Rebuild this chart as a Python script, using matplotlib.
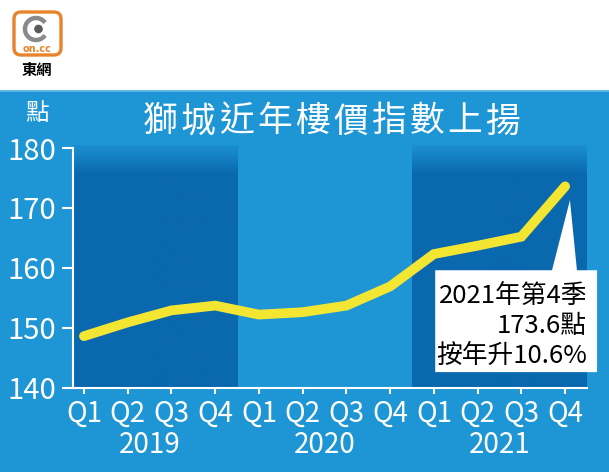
import matplotlib
matplotlib.use('Agg')
import matplotlib.pyplot as plt
import numpy as np
from matplotlib.colors import LinearSegmentedColormap
from matplotlib.patches import Rectangle, FancyBboxPatch, Polygon, Circle, Arc

plt.rcParams['font.family'] = ['Liberation Sans Narrow', 'Noto Sans CJK TC', 'DejaVu Sans']

quarters = ['Q1', 'Q2', 'Q3', 'Q4'] * 3
years = ['2019', '2020', '2021']
index_values = [148.6, 150.9, 152.9, 153.7, 152.2, 152.6, 153.7, 156.9, 162.3, 163.7, 165.2, 173.6]
y_ticks = [140, 150, 160, 170, 180]
title = '獅城近年樓價指數上揚'
callout_lines = ['2021年第4季', '173.6點', '按年升10.6%']

W, H = 609, 472
BG = '#1e96d5'
DARK = '#0a68ae'
YELLOW = '#f3e633'

fig = plt.figure(figsize=(W / 100, H / 100), dpi=100)
fig.patch.set_facecolor('white')

# overlay in pixel coordinates for panel and logo
over = fig.add_axes([0, 0, 1, 1], zorder=0)
over.set_xlim(0, W)
over.set_ylim(H, 0)
over.axis('off')
over.add_patch(Rectangle((0, 90), W, H - 90, facecolor=BG, edgecolor='none'))
over.add_patch(Rectangle((0, 90), W, 1.5, facecolor='#5fb6e3', edgecolor='none'))

# logo
over.add_patch(FancyBboxPatch((14, 12), 47, 43, boxstyle='round,pad=0,rounding_size=7',
                              facecolor='white', edgecolor='#e8832b', linewidth=2.4))
over.add_patch(Arc((36, 29), 22, 22, theta1=35, theta2=325, color='#8a8a8a', linewidth=3.2))
over.add_patch(Circle((38.5, 29), 3.6, color='#5a5a5a'))
over.text(37.5, 49, 'on.cc', ha='center', va='center', fontsize=7, color='#e8832b',
          fontweight='bold', family=['DejaVu Sans'])
over.text(37, 70, '東網', ha='center', va='center', fontsize=11, color='black',
          fontweight='bold', family=['Noto Sans CJK TC'])

# title, with wide letter spacing
for i, ch in enumerate(title):
    over.text(160 + i * 38.1, 122, ch, ha='center', va='center', fontsize=25,
              color='white', family=['Noto Sans CJK TC'])
over.text(37, 113, '點', ha='center', va='center', fontsize=17, color='white',
          family=['Noto Sans CJK TC'])

# main axes
left, right = 73 / W, 587 / W
bottom, top = 1 - 387.7 / H, 1 - 148 / H
ax = fig.add_axes([left, bottom, right - left, top - bottom], zorder=1)
ax.set_facecolor('none')
x = np.arange(len(index_values))

# dark bands for 2019 and 2021 with a soft top edge
cmap = LinearSegmentedColormap.from_list('band', [BG, DARK])
ramp = np.ones((200, 1))
ramp[:25, 0] = np.linspace(0.15, 1, 25)
for x0, x1 in [(-0.25, 3.5), (7.5, 11.5)]:
    ax.imshow(ramp, extent=[x0, x1, 140, 180.5], cmap=cmap, vmin=0, vmax=1,
              aspect='auto', origin='upper', zorder=1, clip_on=False)
ax.set_xlim(-0.25, 11.5)
ax.set_ylim(140, 180)

ax.plot(x, index_values, color=YELLOW, linewidth=7, solid_capstyle='round',
        solid_joinstyle='miter', zorder=3)

for s in ['top', 'right']:
    ax.spines[s].set_visible(False)
for s in ['left', 'bottom']:
    ax.spines[s].set_color('white')
    ax.spines[s].set_linewidth(1.5)
    ax.spines[s].set_zorder(4)

ax.set_yticks(y_ticks)
ax.set_yticklabels([str(v) for v in y_ticks])
ax.set_xticks(x)
ax.set_xticklabels(quarters)
ax.tick_params(axis='y', colors='white', length=8, width=1.5, pad=4, labelsize=21)
ax.tick_params(axis='x', colors='white', length=4, width=1.5, pad=4, labelsize=20)

for i, yr in enumerate(years):
    ax.text(1.5 + 4 * i, -0.238, yr, transform=ax.get_xaxis_transform(),
            ha='center', va='center', fontsize=20, color='white')

# callout box
box = Polygon([(8.03, 142.6), (8.03, 159.6), (10.70, 159.6), (11.11, 171.3),
               (11.27, 159.6), (11.73, 159.6), (11.73, 142.6)],
              closed=True, facecolor='white', edgecolor='none', zorder=5, clip_on=False)
ax.add_patch(box)
for j, line in enumerate(callout_lines):
    ax.text(11.5, 155.3 - 5 * j, line, ha='right', va='center', fontsize=18.5,
            color='black', zorder=6)

fig.savefig('out.png', dpi=100, facecolor=fig.get_facecolor())
